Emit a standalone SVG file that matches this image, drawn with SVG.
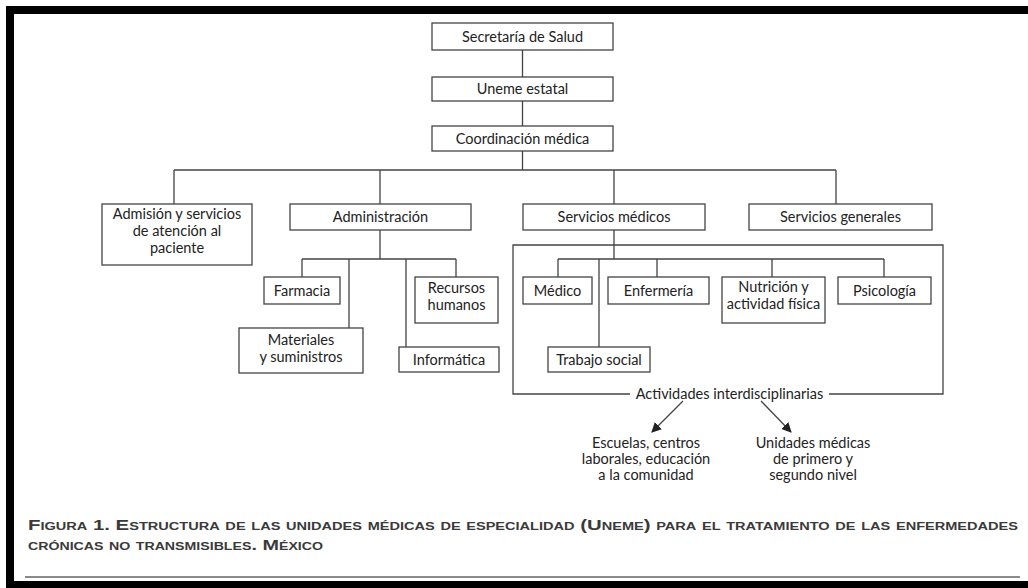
<svg xmlns="http://www.w3.org/2000/svg" width="1028" height="588" viewBox="0 0 1028 588">
<defs>
<marker id="ah" viewBox="0 0 10 10" refX="9" refY="5" markerWidth="10" markerHeight="10" orient="auto" markerUnits="userSpaceOnUse">
<path d="M0,0 L10,5 L0,10 z" fill="#222"/>
</marker>
</defs>
<style>
.box{fill:#fff;stroke:#444;stroke-width:1.3}
.t{font-family:Lato,"Open Sans","Liberation Sans",sans-serif;font-size:14.5px;fill:#222;text-anchor:middle}
.c{fill:none;stroke:#444;stroke-width:1.3}
.cap{font-family:"Liberation Sans",Arial,sans-serif;font-size:14px;font-weight:bold;font-variant:small-caps;fill:#3a3a3a}
</style>
<rect x="0" y="0" width="1028" height="588" fill="#fff"/>
<!-- frame -->
<rect x="6" y="6" width="1022" height="8" fill="#000"/>
<rect x="6" y="6" width="8" height="582" fill="#000"/>
<rect x="6" y="581" width="1022" height="7" fill="#000"/>
<line x1="25" y1="577" x2="1020" y2="577" stroke="#8a8a8a" stroke-width="2"/>

<g id="connectors">
<path class="c" d="M522.5,50 V77 M522.5,101 V126 M522.5,151 V170 M174,170 H836 M174,170 V204 M380,170 V204 M614,170 V204 M836,170 V204"/>
<path class="c" d="M380,230 V259 M302,259 H456 M302,259 V277 M349,259 V328 M406,259 V347 M456,259 V277"/>
<path class="c" d="M614,230 V259 M558,259 H884 M558,259 V277 M599,259 V347 M657,259 V277 M772,259 V277 M884,259 V277"/>
<path class="c" d="M630,394 H513 V245 H943 V394 H829"/>
<line class="c" x1="683" y1="401" x2="652" y2="432" marker-end="url(#ah)"/>
<line class="c" x1="761" y1="401" x2="791" y2="432" marker-end="url(#ah)"/>
</g>

<g id="secretaria"><rect class="box" x="432" y="23" width="181" height="27"/><text class="t" x="522.5" y="41.5">Secretaría de Salud</text></g>
<g id="uneme"><rect class="box" x="432" y="77" width="181" height="24"/><text class="t" x="522.5" y="94">Uneme estatal</text></g>
<g id="coordinacion"><rect class="box" x="432" y="126" width="181" height="25"/><text class="t" x="522.5" y="143.5">Coordinación médica</text></g>

<g id="admision"><rect class="box" x="102" y="204" width="150" height="61"/>
<text class="t" x="177" y="219">Admisión y servicios</text>
<text class="t" x="177" y="236">de atención al</text>
<text class="t" x="177" y="253">paciente</text></g>
<g id="administracion"><rect class="box" x="290" y="204" width="181" height="26"/><text class="t" x="380.5" y="222">Administración</text></g>
<g id="servicios-medicos"><rect class="box" x="523" y="204" width="182" height="26"/><text class="t" x="614" y="222">Servicios médicos</text></g>
<g id="servicios-generales"><rect class="box" x="749" y="204" width="183" height="26"/><text class="t" x="840.5" y="222">Servicios generales</text></g>

<g id="farmacia"><rect class="box" x="264" y="277" width="76" height="27"/><text class="t" x="302" y="295.5">Farmacia</text></g>
<g id="materiales"><rect class="box" x="239" y="328" width="124" height="45"/>
<text class="t" x="301" y="345">Materiales</text>
<text class="t" x="301" y="362">y suministros</text></g>
<g id="informatica"><rect class="box" x="399" y="347" width="100" height="25"/><text class="t" x="449" y="364.5">Informática</text></g>
<g id="recursos"><rect class="box" x="415" y="277" width="83" height="46"/>
<text class="t" x="456.5" y="293">Recursos</text>
<text class="t" x="456.5" y="310">humanos</text></g>

<g id="medico"><rect class="box" x="523" y="277" width="69" height="27"/><text class="t" x="557.5" y="295.5">Médico</text></g>
<g id="enfermeria"><rect class="box" x="608" y="277" width="101" height="27"/><text class="t" x="658.5" y="295.5">Enfermería</text></g>
<g id="nutricion"><rect class="box" x="722" y="277" width="103" height="46"/>
<text class="t" x="773.5" y="292">Nutrición y</text>
<text class="t" x="773.5" y="309">actividad física</text></g>
<g id="psicologia"><rect class="box" x="838" y="277" width="93" height="27"/><text class="t" x="884.5" y="295.5">Psicología</text></g>
<g id="trabajo-social"><rect class="box" x="548" y="347" width="102" height="25"/><text class="t" x="599" y="364.5">Trabajo social</text></g>

<g id="actividades"><text class="t" x="729.5" y="398.5">Actividades interdisciplinarias</text></g>
<g id="escuelas">
<text class="t" x="646" y="448">Escuelas, centros</text>
<text class="t" x="646" y="464">laborales, educación</text>
<text class="t" x="646" y="480">a la comunidad</text></g>
<g id="unidades">
<text class="t" x="813" y="448">Unidades médicas</text>
<text class="t" x="813" y="464">de primero y</text>
<text class="t" x="813" y="480">segundo nivel</text></g>

<text class="cap" x="28" y="530" textLength="990" lengthAdjust="spacingAndGlyphs">Figura 1. Estructura de las unidades médicas de especialidad (Uneme) para el tratamiento de las enfermedades</text>
<text class="cap" x="28" y="550" textLength="295" lengthAdjust="spacingAndGlyphs">crónicas no transmisibles. México</text>
</svg>
